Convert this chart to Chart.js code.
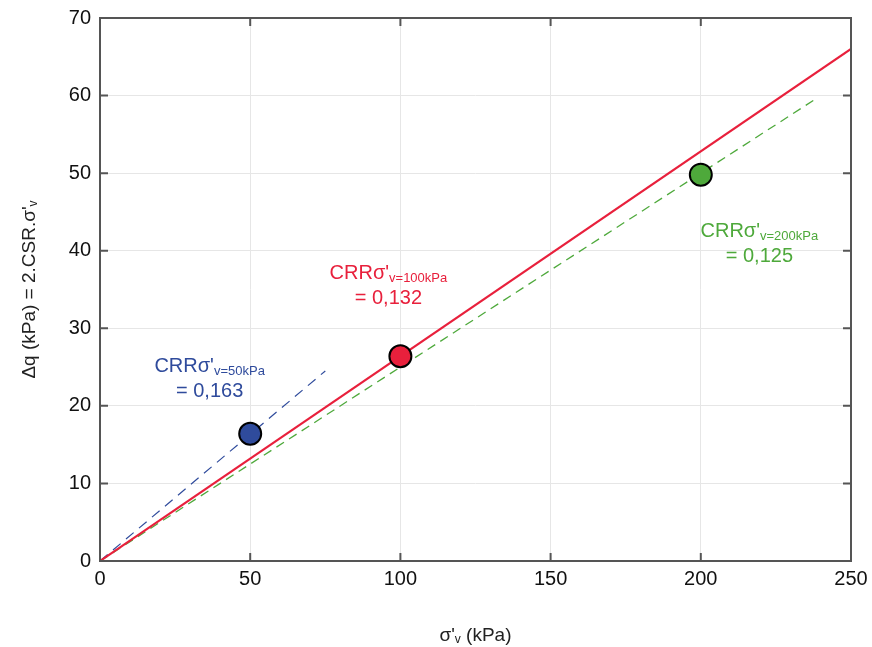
<!DOCTYPE html>
<html>
<head>
<meta charset="utf-8">
<script src="https://cdn.jsdelivr.net/npm/chart.js@4/dist/chart.umd.min.js"></script>
<style>
  html, body { margin: 0; padding: 0; background: #fff; }
  #wrap { width: 872px; height: 647px; }
</style>
</head>
<body>
<div id="wrap"><canvas id="c" width="872" height="647"></canvas></div>
<script>
'use strict';

// ── Data ─────────────────────────────────────────────────────────────────────
const xTicks = [0, 50, 100, 150, 200, 250];
const yTicks = [0, 10, 20, 30, 40, 50, 60, 70];

const redLineX   = [0, 250];
const redLineY   = [0, 66];
const blueLineX  = [0, 75];
const blueLineY  = [0, 24.5];
const greenLineX = [0, 238];
const greenLineY = [0, 59.5];

const pointX = [50, 100, 200];
const pointY = [16.4, 26.4, 49.8];

const labelSub   = ['v=50kPa', 'v=100kPa', 'v=200kPa'];
const labelValue = ['= 0,163', '= 0,132', '= 0,125'];

// ── Style ────────────────────────────────────────────────────────────────────
const BLUE  = '#2f4b9c';
const RED   = '#e8203c';
const GREEN = '#4ea93b';
const AXIS  = '#555555';
const FONT  = '"Liberation Sans", Arial, sans-serif';

const pts = (xs, ys) => xs.map((x, i) => ({ x, y: ys[i] }));

// label anchor in data coords (centre of first line)
const labelPos = [
  { x: 36.5, y: 25.3, color: BLUE },
  { x: 96,   y: 37.3, color: RED },
  { x: 219.5, y: 42.7, color: GREEN }
];

// ── Plugins ─────────────────────────────────────────────────────────────────
const frame = {
  id: 'frame',
  afterDatasetsDraw(chart) {
    const { ctx, chartArea: a, scales: { x, y } } = chart;
    ctx.save();
    ctx.strokeStyle = AXIS;
    ctx.lineWidth = 2;
    ctx.strokeRect(a.left, a.top, a.right - a.left, a.bottom - a.top);
    const tl = 8;
    ctx.beginPath();
    xTicks.forEach(v => {
      const px = x.getPixelForValue(v);
      ctx.moveTo(px, a.bottom); ctx.lineTo(px, a.bottom - tl);
      ctx.moveTo(px, a.top); ctx.lineTo(px, a.top + tl);
    });
    yTicks.forEach(v => {
      const py = y.getPixelForValue(v);
      ctx.moveTo(a.left, py); ctx.lineTo(a.left + tl, py);
      ctx.moveTo(a.right, py); ctx.lineTo(a.right - tl, py);
    });
    ctx.stroke();

    // annotations
    labelPos.forEach((p, i) => {
      const cx = x.getPixelForValue(p.x);
      const cy = y.getPixelForValue(p.y);
      ctx.fillStyle = p.color;
      ctx.textBaseline = 'alphabetic';
      ctx.font = '20px ' + FONT;
      const main = "CRR\u03c3'";
      const w1 = ctx.measureText(main).width;
      ctx.font = '13px ' + FONT;
      const w2 = ctx.measureText(labelSub[i]).width;
      const x0 = cx - (w1 + w2) / 2;
      ctx.font = '20px ' + FONT;
      ctx.textAlign = 'left';
      ctx.fillText(main, x0, cy + 7);
      ctx.font = '13px ' + FONT;
      ctx.fillText(labelSub[i], x0 + w1, cy + 10);
      ctx.font = '20px ' + FONT;
      ctx.textAlign = 'center';
      ctx.fillText(labelValue[i], cx, cy + 32);
    });

    // axis titles
    ctx.fillStyle = '#222';
    ctx.textAlign = 'left';
    const xt1 = "\u03c3'", xt3 = ' (kPa)';
    ctx.font = '19px ' + FONT;
    const a1 = ctx.measureText(xt1).width, a3 = ctx.measureText(xt3).width;
    ctx.font = '12px ' + FONT;
    const a2 = ctx.measureText('v').width;
    let sx = (a.left + a.right) / 2 - (a1 + a2 + a3) / 2;
    const by = 641;
    ctx.font = '19px ' + FONT; ctx.fillText(xt1, sx, by);
    ctx.font = '12px ' + FONT; ctx.fillText('v', sx + a1, by + 2);
    ctx.font = '19px ' + FONT; ctx.fillText(xt3, sx + a1 + a2, by);

    ctx.translate(35, (a.top + a.bottom) / 2);
    ctx.rotate(-Math.PI / 2);
    const yt1 = "\u0394q (kPa) = 2.CSR.\u03c3'";
    ctx.font = '19px ' + FONT;
    const b1 = ctx.measureText(yt1).width;
    ctx.font = '12px ' + FONT;
    const b2 = ctx.measureText('v').width;
    sx = -(b1 + b2) / 2;
    ctx.font = '19px ' + FONT; ctx.fillText(yt1, sx, 0);
    ctx.font = '12px ' + FONT; ctx.fillText('v', sx + b1, 2);
    ctx.restore();
  }
};

// ── Chart ───────────────────────────────────────────────────────────────────
new Chart(document.getElementById('c'), {
  type: 'scatter',
  data: {
    datasets: [
      { type: 'line', data: pts(blueLineX, blueLineY), borderColor: BLUE, borderWidth: 1.2,
        borderDash: [10, 7], pointRadius: 0, fill: false, order: 3 },
      { type: 'line', data: pts(greenLineX, greenLineY), borderColor: GREEN, borderWidth: 1.3,
        borderDash: [9, 6], pointRadius: 0, fill: false, order: 3 },
      { type: 'line', data: pts(redLineX, redLineY), borderColor: RED, borderWidth: 2.2,
        pointRadius: 0, fill: false, order: 2 },
      { data: pts(pointX, pointY), backgroundColor: [BLUE, RED, GREEN], borderColor: '#000',
        borderWidth: 2, pointRadius: 11, pointHoverRadius: 11, order: 1 }
    ]
  },
  options: {
    responsive: false,
    animation: false,
    layout: { padding: { left: 0, right: 21, top: 18, bottom: 0 } },
    plugins: { legend: { display: false }, tooltip: { enabled: false } },
    scales: {
      x: {
        type: 'linear', min: 0, max: 250,
        afterBuildTicks: s => { s.ticks = xTicks.map(v => ({ value: v })); },
        afterFit: s => { s.height = 86; s.paddingLeft = 0; s.paddingRight = 0; },
        grid: { color: '#e6e6e6', lineWidth: 1, drawTicks: false },
        border: { display: false },
        ticks: { color: '#111', font: { family: FONT, size: 20 }, padding: 6 }
      },
      y: {
        type: 'linear', min: 0, max: 70,
        afterBuildTicks: s => { s.ticks = yTicks.map(v => ({ value: v })); },
        afterFit: s => { s.width = 100; s.paddingTop = 0; s.paddingBottom = 0; },
        grid: { color: '#e6e6e6', lineWidth: 1, drawTicks: false },
        border: { display: false },
        ticks: { color: '#111', font: { family: FONT, size: 20 }, padding: 9 }
      }
    }
  },
  plugins: [frame]
});
</script>
</body>
</html>
